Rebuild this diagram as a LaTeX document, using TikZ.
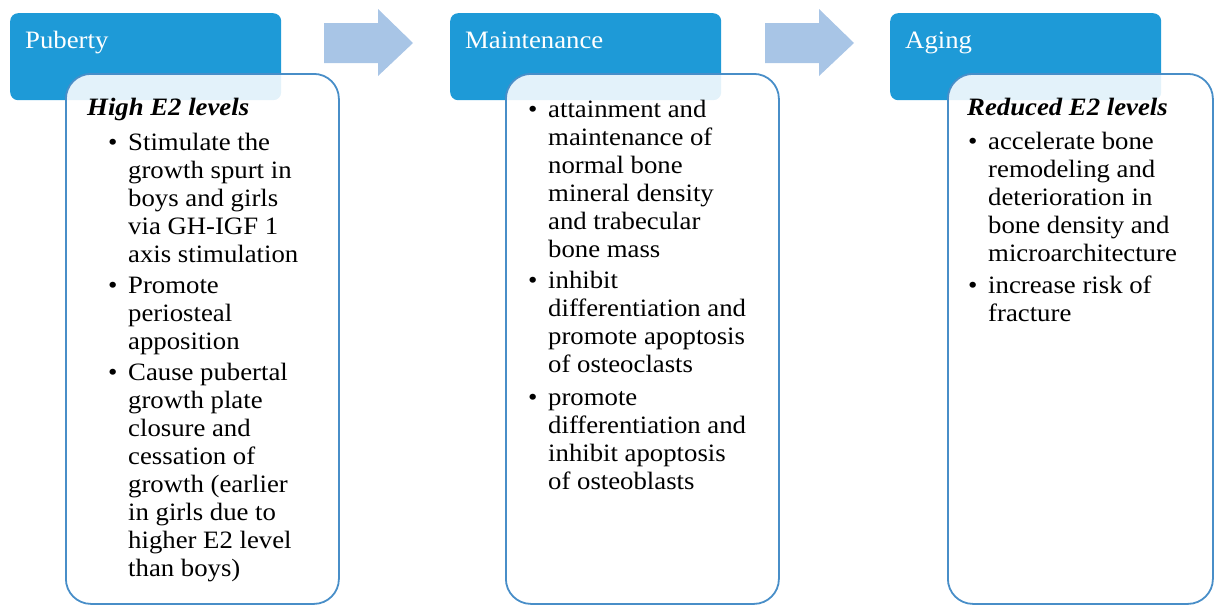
\documentclass[tikz,border=0pt]{standalone}
\usepackage{fontspec}
\setmainfont{Liberation Serif}[FakeStretch=1.07]
\definecolor{hdrblue}{RGB}{30,154,215}
\definecolor{brd}{RGB}{72,142,200}
\definecolor{arw}{RGB}{168,197,230}
\newcommand{\bodyfont}{\fontsize{25}{28}\selectfont}
\newcommand{\lns}[1]{\begin{tabular}[t]{@{}l@{}}#1\end{tabular}}
\begin{document}
\begin{tikzpicture}[x=1pt,y=-1pt,
  hdr/.style={fill=hdrblue, rounded corners=8pt, minimum width=271pt, minimum height=87pt, anchor=north west, inner sep=0pt},
  card/.style={draw=brd, line width=1.8pt, fill=white, fill opacity=0.88, rounded corners=25pt, minimum height=530pt, anchor=north west, inner sep=0pt},
  htxt/.style={anchor=base west, text=white, font=\bodyfont, inner sep=0pt},
  txt/.style={anchor=base west, font=\bodyfont, inner sep=0pt},
  head/.style={txt, font=\bodyfont\bfseries\itshape},
  flow/.style={fill=arw}]
\useasboundingbox (0,0) rectangle (1214,605);

% headers
\node[hdr] (h1) at (10,13) {};
\node[hdr] (h2) at (450,13) {};
\node[hdr] (h3) at (890,13) {};
\node[htxt] (t1) at (25,48) {Puberty};
\node[htxt] (t2) at (465,48) {Maintenance};
\node[htxt] (t3) at (905,48) {Aging};

% cards
\node[card, minimum width=273pt] (c1) at (65,73) {};
\node[card, minimum width=273pt] (c2) at (505,73) {};
\node[card, minimum width=265pt] (c3) at (947,73) {};

% arrows
\fill[flow] (324,23) -- (378,23) -- (378,9) -- (413,43) -- (378,76) -- (378,63) -- (324,63) -- cycle;
\fill[flow] (765,23) -- (819,23) -- (819,9) -- (854,43) -- (819,76) -- (819,63) -- (765,63) -- cycle;

% card 1
\node[head] (k1) at (87,115) {High E2 levels};
\node[txt] (d11) at (108,150) {•};
\node[txt] (p11) at (128,150) {\lns{Stimulate the\\growth spurt in\\boys and girls\\via GH-IGF 1\\axis stimulation}};
\node[txt] (d12) at (108,293) {•};
\node[txt] (p12) at (128,293) {\lns{Promote\\periosteal\\apposition}};
\node[txt] (d13) at (108,380) {•};
\node[txt] (p13) at (128,380) {\lns{Cause pubertal\\growth plate\\closure and\\cessation of\\growth (earlier\\in girls due to\\higher E2 level\\than boys)}};

% card 2
\node[txt] (d21) at (528,117) {•};
\node[txt] (p21) at (548,117) {\lns{attainment and\\maintenance of\\normal bone\\mineral density\\and trabecular\\bone mass}};
\node[txt] (d22) at (528,288) {•};
\node[txt] (p22) at (548,288) {\lns{inhibit\\differentiation and\\promote apoptosis\\of osteoclasts}};
\node[txt] (d23) at (528,405) {•};
\node[txt] (p23) at (548,405) {\lns{promote\\differentiation and\\inhibit apoptosis\\of osteoblasts}};

% card 3
\node[head] (k3) at (967,115) {Reduced E2 levels};
\node[txt] (d31) at (968,149) {•};
\node[txt] (p31) at (988,149) {\lns{accelerate bone\\remodeling and\\deterioration in\\bone density and\\microarchitecture}};
\node[txt] (d32) at (968,293) {•};
\node[txt] (p32) at (988,293) {\lns{increase risk of\\fracture}};
\end{tikzpicture}
\end{document}
